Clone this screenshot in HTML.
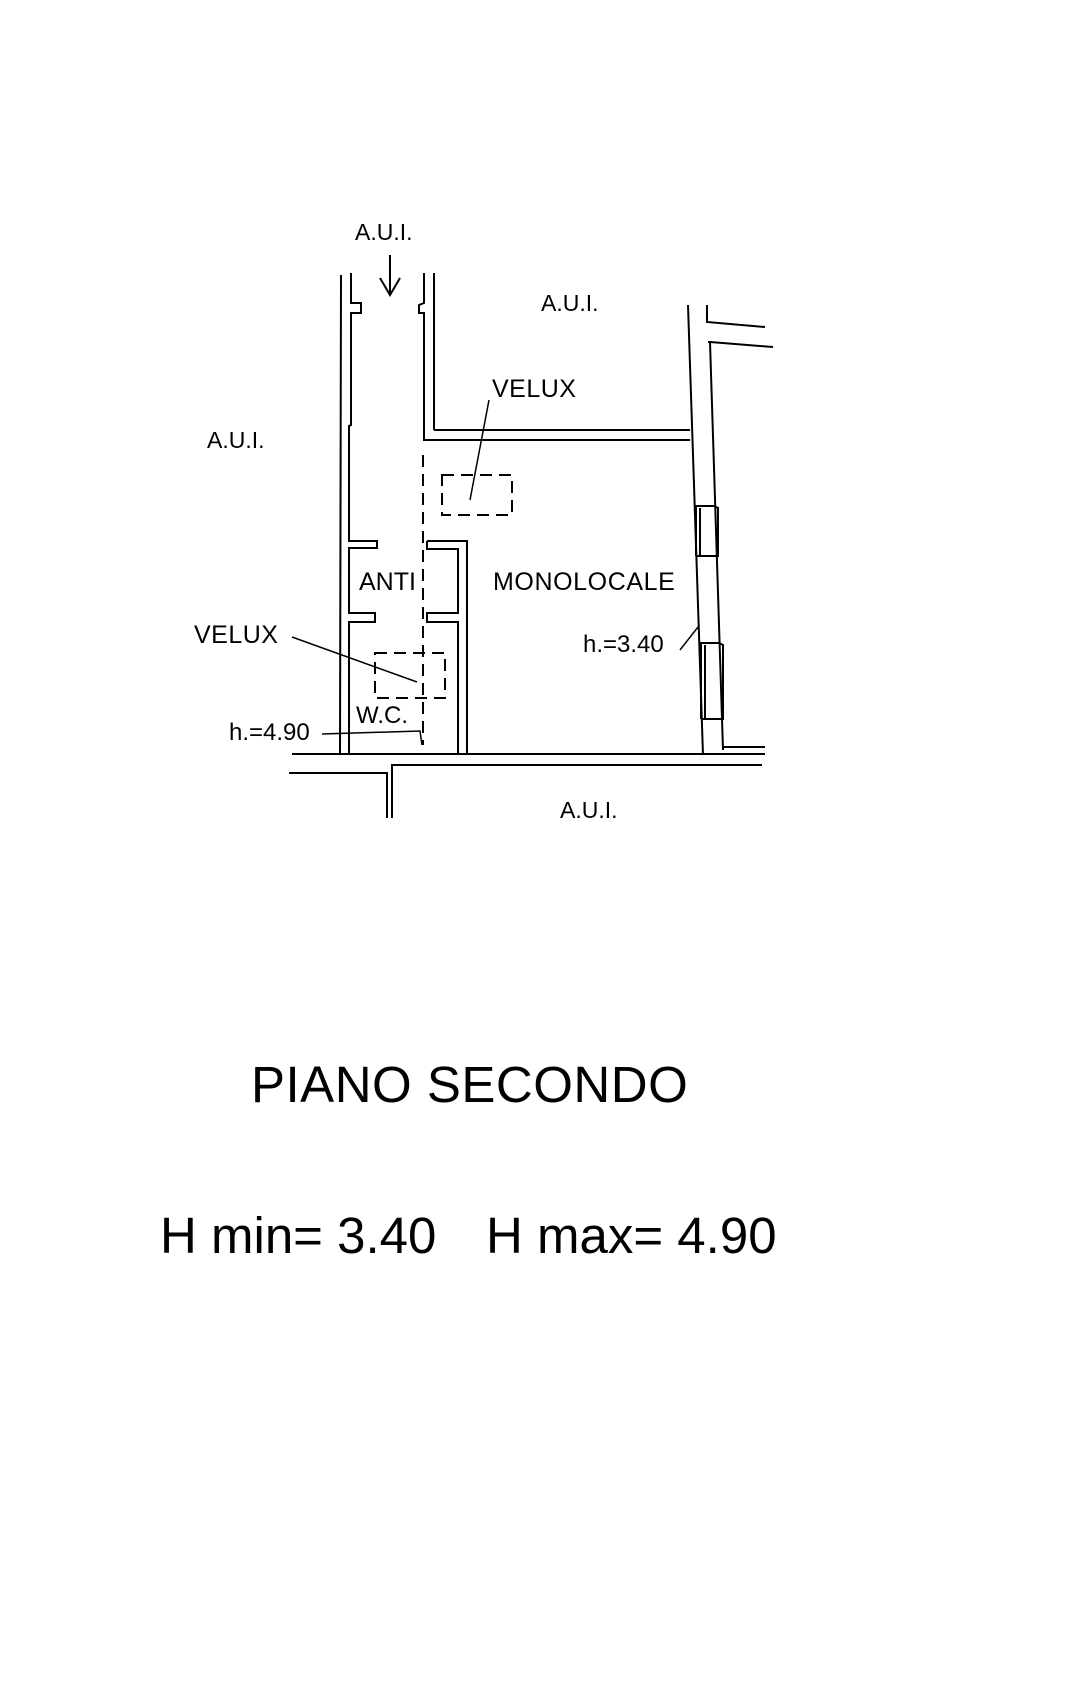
<!DOCTYPE html>
<html><head><meta charset="utf-8"><style>
html,body{margin:0;padding:0;background:#fff;}
svg{display:block;}
text{font-family:"Liberation Sans",sans-serif;fill:#000;}
</style></head><body>
<svg width="1080" height="1701" viewBox="0 0 1080 1701" xmlns="http://www.w3.org/2000/svg">
<g stroke="#000" stroke-width="2" fill="none">
<line x1="390" y1="255" x2="390" y2="295"/>
<polyline points="380,278 390,295 400,278"/>
<line x1="341" y1="275" x2="340" y2="753"/>
<polyline points="351,273 351,303 361,303 361,313 351,313 351,425 349,426 349,541 377,541 377,548 349,548 349,613 375,613 375,622 349,622 349,753"/>
<line x1="434" y1="273" x2="434" y2="430"/>
<line x1="434" y1="430" x2="690" y2="430"/>
<polyline points="424,273 424,303 419,305 419,313 424,313 424,440 690,440"/>
<polyline points="427,541 467,541 467,753"/>
<polyline points="427,541 427,549 458,549 458,613 427,613 427,622 458,622 458,753"/>
<line x1="292" y1="754" x2="765" y2="754"/>
<polyline points="289,773 387,773 387,818"/>
<polyline points="392,818 392,765 762,765"/>
<polyline points="688,305 703,755"/>
<polyline points="708,342 710,342 723,750"/>
<polyline points="707,305 707,322 765,327"/>
<polyline points="710,342 773,347"/>
<line x1="722" y1="747" x2="765" y2="747"/>
<polyline points="696,556 696,506 714,506 718,508 718,556 696,556"/>
<line x1="700" y1="508" x2="700" y2="556"/>
<polyline points="701,719 701,643 719,643 723,645 723,719 701,719"/>
<line x1="705" y1="645" x2="705" y2="719"/>
</g>
<g stroke="#000" stroke-width="2" fill="none" stroke-dasharray="12,7">
<line x1="423" y1="455" x2="423" y2="745"/>
<rect x="442" y="475" width="70" height="40"/>
<rect x="375" y="653" width="70" height="45"/>
</g>
<g stroke="#000" stroke-width="1.5" fill="none">
<line x1="489" y1="400" x2="470" y2="500"/>
<line x1="292" y1="637" x2="417" y2="682"/>
<polyline points="322,734 420,731 422,745"/>
<line x1="680" y1="650" x2="698" y2="627"/>
</g>
<g font-size="25">
<text x="355" y="240" font-size="23">A.U.I.</text>
<text x="207" y="448" font-size="23">A.U.I.</text>
<text x="541" y="311" font-size="23">A.U.I.</text>
<text x="560" y="818" font-size="23">A.U.I.</text>
<text x="492" y="397" letter-spacing="0.5">VELUX</text>
<text x="194" y="643" letter-spacing="0.5">VELUX</text>
<text x="493" y="590" letter-spacing="0.6">MONOLOCALE</text>
<text x="359" y="590">ANTI</text>
<text x="583" y="652" font-size="24">h.=3.40</text>
<text x="229" y="740" font-size="24">h.=4.90</text>
<text x="356" y="723" font-size="24">W.C.</text>
</g>
<text x="251" y="1102" font-size="51" letter-spacing="0.5">PIANO SECONDO</text>
<text x="160" y="1253" font-size="51">H min= 3.40</text>
<text x="486" y="1253" font-size="51">H max= 4.90</text>
</svg>
</body></html>
